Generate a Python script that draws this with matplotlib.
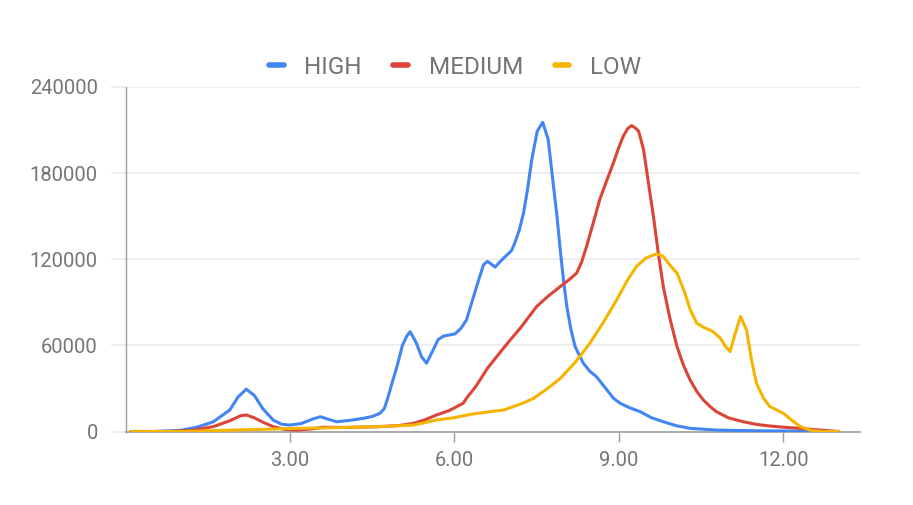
import matplotlib
matplotlib.use("Agg")
import matplotlib.pyplot as plt
from matplotlib.lines import Line2D

# series
high_x = [0.1, 0.5, 1.0, 1.3, 1.6, 1.9, 2.05, 2.2, 2.35, 2.5, 2.69, 2.85, 3.0, 3.2, 3.4, 3.55,
          3.7, 3.85, 4.1, 4.34, 4.5, 4.64, 4.72, 4.79, 4.87, 4.95, 5.05, 5.13, 5.19, 5.3, 5.4,
          5.49, 5.6, 5.7, 5.8, 6.01, 6.12, 6.22, 6.3, 6.42, 6.53, 6.6, 6.65, 6.74, 6.85, 6.98,
          7.04, 7.1, 7.18, 7.26, 7.33, 7.41, 7.51, 7.61, 7.71, 7.8, 7.87, 7.93, 7.99, 8.05,
          8.12, 8.2, 8.35, 8.47, 8.59, 8.75, 8.9, 9.02, 9.2, 9.39, 9.6, 9.81, 10.05, 10.3,
          10.78, 11.5, 12.5, 13.0]
high_y = [0, 0, 800, 3000, 6800, 15000, 24000, 29500, 25000, 16000, 8000, 5000, 4500, 5500,
          8500, 10300, 8500, 6800, 7800, 9200, 10500, 12700, 16000, 24300, 35000, 45200, 60000,
          66500, 69500, 62000, 52000, 47600, 56000, 64000, 66500, 68000, 72000, 77800, 88000,
          103000, 116200, 118500, 117300, 114500, 119000, 123800, 126000, 131300, 140000,
          152200, 168000, 189400, 209200, 215400, 203400, 173200, 150000, 126600, 105000,
          87100, 72000, 59200, 47600, 42000, 38200, 30500, 23200, 19700, 16500, 13800, 9500,
          6800, 4000, 2200, 1000, 500, 200, 0]

medium_x = [0.1, 0.8, 1.2, 1.6, 1.9, 2.1, 2.2, 2.35, 2.5, 2.69, 2.9, 3.12, 3.4, 3.6, 4.0, 4.64,
            5.0, 5.25, 5.45, 5.67, 5.9, 6.16, 6.22, 6.4, 6.6, 6.83, 7.0, 7.2, 7.5, 7.7, 7.93,
            8.1, 8.23, 8.32, 8.41, 8.53, 8.65, 8.78, 8.9, 9.0, 9.08, 9.16, 9.23, 9.3, 9.36,
            9.45, 9.54, 9.63, 9.72, 9.81, 9.93, 10.06, 10.18, 10.3, 10.42, 10.54, 10.66, 10.78,
            11.0, 11.27, 11.5, 11.76, 12.0, 12.31, 12.6, 13.0]
medium_y = [0, 0, 800, 3400, 7500, 11000, 11500, 9500, 6500, 3400, 1500, 1000, 1800, 3000,
            2800, 3400, 4200, 5700, 8000, 11500, 14500, 19700, 23200, 32000, 44000, 55000,
            63000, 72000, 87100, 94000, 101000, 106000, 110400, 118000, 128900, 145000,
            161500, 175000, 187100, 198000, 205700, 211000, 213100, 211500, 209200, 196400,
            173000, 149900, 124000, 101000, 79000, 59200, 46000, 35900, 28000, 22000, 17500,
            13800, 9500, 6800, 5000, 3800, 3000, 2200, 1200, 0]

low_x = [0.1, 1.0, 1.5, 2.0, 2.5, 3.12, 4.0, 4.64, 5.25, 5.67, 5.98, 6.3, 6.65, 6.9, 7.2, 7.44,
         7.7, 7.93, 8.2, 8.47, 8.7, 8.96, 9.15, 9.32, 9.5, 9.69, 9.81, 9.95, 10.06, 10.2, 10.3,
         10.42, 10.55, 10.72, 10.85, 10.95, 11.03, 11.12, 11.22, 11.33, 11.42, 11.51, 11.64,
         11.75, 12.0, 12.15, 12.31, 12.5, 12.7, 13.0]
low_y = [0, 0, 500, 1000, 1500, 2200, 2800, 3400, 4500, 8000, 9500, 12000, 13800, 15000,
         19000, 23000, 30000, 37000, 48000, 61500, 75000, 91700, 105000, 115000, 121000,
         123800, 122000, 115000, 110400, 97000, 85000, 75500, 72500, 69600, 65000, 59000,
         55700, 68000, 80100, 70800, 50000, 33600, 23200, 17500, 12700, 8000, 3400, 800, 0, 0]

x_ticks = [3, 6, 9, 12]
x_tick_labels = ["3.00", "6.00", "9.00", "12.00"]
y_ticks = [0, 60000, 120000, 180000, 240000]
y_tick_labels = ["0", "60000", "120000", "180000", "240000"]

names = ["HIGH", "MEDIUM", "LOW"]
colors = ["#4285F4", "#DB4437", "#F4B400"]

plt.rcParams["font.family"] = ["Roboto", "DejaVu Sans"]
text_color = "#757575"

fig = plt.figure(figsize=(9.13, 5.05), dpi=100)
ax = fig.add_axes([125.7 / 913, 1 - 431.5 / 505, (860 - 125.7) / 913, (431.5 - 87) / 505])

series = [(high_x, high_y), (medium_x, medium_y), (low_x, low_y)]
for (xs, ys), name, c in zip(series, names, colors):
    ax.plot(xs, ys, color=c, lw=2.2, label=name, solid_joinstyle="round", zorder=3)

ax.set_xlim(0, 13.4)
ax.set_ylim(0, 240000)
ax.set_xticks(x_ticks)
ax.set_xticklabels(x_tick_labels)
ax.set_yticks(y_ticks)
ax.set_yticklabels(y_tick_labels)

ax.grid(axis="y", color="#ebebeb", lw=1.2)
ax.set_axisbelow(True)
for s in ["top", "right"]:
    ax.spines[s].set_visible(False)
ax.spines["left"].set_color("#9e9e9e")
ax.spines["bottom"].set_color("#9e9e9e")
ax.spines["left"].set_linewidth(1.0)
ax.spines["bottom"].set_linewidth(1.2)
ax.spines["bottom"].set_zorder(2)

ax.tick_params(axis="y", length=11, color="#ebebeb", width=1.2, pad=9,
               labelsize=14.5, labelcolor=text_color)
ax.tick_params(axis="x", length=7, color="#9e9e9e", width=1.0, pad=7,
               labelsize=14.5, labelcolor=text_color)

handles = [Line2D([0], [0], color=c, lw=4, solid_capstyle="round") for c in colors]
fig.legend(handles, names, loc="center", bbox_to_anchor=(455 / 913, 1 - 67 / 505),
           ncol=3, frameon=False, fontsize=17.5, labelcolor=text_color,
           handlelength=0.6, handletextpad=0.85, columnspacing=1.3)

fig.savefig("out.png", dpi=100, facecolor="white")
